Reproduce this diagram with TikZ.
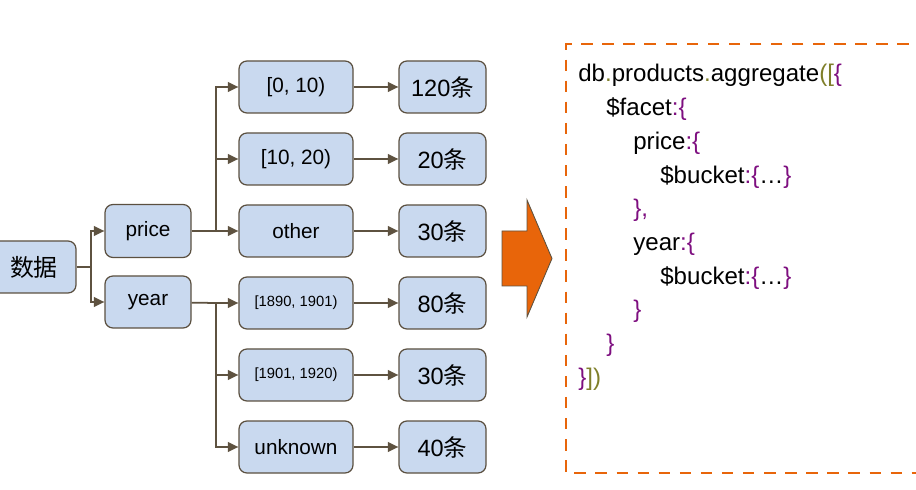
\documentclass[tikz,border=0pt]{standalone}
\usepackage{fontspec}
\setmainfont{Liberation Sans}
\newfontfamily\cjk{Noto Sans CJK SC}
\usetikzlibrary{arrows.meta}

\definecolor{boxfill}{HTML}{C9D9EF}
\definecolor{boxline}{HTML}{5B5040}
\definecolor{linkcol}{HTML}{5E5240}
\definecolor{orangeline}{HTML}{E8650A}
\definecolor{bracecol}{HTML}{7E0F80}
\definecolor{olivecol}{HTML}{7F7F2A}

\newcommand{\codepu}[1]{\textcolor{bracecol}{#1}}
\newcommand{\codeol}[1]{\textcolor{olivecol}{#1}}

\begin{document}
\begin{tikzpicture}[
        bucketbox/.style={rectangle, rounded corners=4.5pt, draw=boxline, line width=0.7pt, fill=boxfill,
            minimum height=1.04cm, inner sep=0pt, font=\fontsize{11.8}{14}\selectfont},
        countbox/.style={bucketbox, minimum width=1.74cm, font=\fontsize{13.4}{16}\selectfont},
        link/.style={draw=linkcol, line width=1pt},
        arr/.style={link, -{Triangle[length=6pt, width=5.5pt]}},
        codeline/.style={anchor=base west, inner sep=0pt, font=\fontsize{13.7}{16}\selectfont}
    ]
        \useasboundingbox (0,0) rectangle (18.32,9.78);

        \node[bucketbox, minimum width=1.68cm, font=\fontsize{13.6}{16}\selectfont] (data) at (0.68, 4.44) {\cjk 数据};
        \node[bucketbox, minimum width=1.72cm, minimum height=1.06cm] (price) at (2.96, 5.16) {price};
        \node[bucketbox, minimum width=1.72cm] (year) at (2.96, 3.74) {year};

        \coordinate (j0) at (1.82, 4.44);
        \draw[link] (data) -- (j0);
        \draw[arr] (j0) |- (price);
        \draw[arr] (j0) |- (year);

        % price buckets
        \node[bucketbox, minimum width=2.28cm] (p1) at (5.92, 8.04) {[0, 10)};
        \node[bucketbox, minimum width=2.28cm] (p2) at (5.92, 6.60) {[10, 20)};
        \node[bucketbox, minimum width=2.28cm] (p3) at (5.92, 5.16) {other};
        \node[countbox] (c1) at (8.85, 8.04) {120{\cjk 条}};
        \node[countbox] (c2) at (8.85, 6.60) {20{\cjk 条}};
        \node[countbox] (c3) at (8.85, 5.16) {30{\cjk 条}};

        \coordinate (j1) at (4.32, 5.16);
        \draw[link] (price) -- (j1);
        \draw[arr] (j1) |- (p1);
        \draw[arr] (j1) |- (p2);
        \draw[arr] (j1) -- (p3);
        \draw[arr] (p1) -- (c1);
        \draw[arr] (p2) -- (c2);
        \draw[arr] (p3) -- (c3);

        % year buckets
        \node[bucketbox, minimum width=2.28cm, font=\fontsize{8.4}{10}\selectfont] (y1) at (5.92, 3.72) {[1890, 1901)};
        \node[bucketbox, minimum width=2.28cm, font=\fontsize{8.4}{10}\selectfont] (y2) at (5.92, 2.28) {[1901, 1920)};
        \node[bucketbox, minimum width=2.28cm] (y3) at (5.92, 0.84) {unknown};
        \node[countbox] (c4) at (8.85, 3.72) {80{\cjk 条}};
        \node[countbox] (c5) at (8.85, 2.28) {30{\cjk 条}};
        \node[countbox] (c6) at (8.85, 0.84) {40{\cjk 条}};

        \coordinate (j2) at (4.32, 3.72);
        \draw[link] (year) -- (j2);
        \draw[arr] (j2) -- (y1);
        \draw[arr] (j2) |- (y2);
        \draw[arr] (j2) |- (y3);
        \draw[arr] (y1) -- (c4);
        \draw[arr] (y2) -- (c5);
        \draw[arr] (y3) -- (c6);

        % big arrow
        \filldraw[fill=orangeline, draw=linkcol, line width=0.5pt]
            (10.04, 4.06) -- (10.04, 5.16) -- (10.54, 5.16) -- (10.54, 5.78)
            -- (11.04, 4.61) -- (10.54, 3.44) -- (10.54, 4.06) -- cycle;

        % code panel
        \draw[orangeline, line width=1.6pt, dash pattern=on 6.5pt off 5.5pt]
            (18.6, 8.90) -- (11.32, 8.90) -- (11.32, 0.32) -- (18.6, 0.32);

        \node[codeline] (code1) at (11.56, 8.14) {db\codeol{.}products\codeol{.}aggregate\codeol{([}\codepu{\{}};
        \node[codeline] (code2) at (12.12, 7.466) {\$facet\codepu{:\{}};
        \node[codeline] (code3) at (12.66, 6.792) {price\codepu{:\{}};
        \node[codeline] (code4) at (13.20, 6.118) {\$bucket\codepu{:\{}…\codepu{\}}};
        \node[codeline] (code5) at (12.66, 5.444) {\codepu{\},}};
        \node[codeline] (code6) at (12.66, 4.770) {year\codepu{:\{}};
        \node[codeline] (code7) at (13.20, 4.096) {\$bucket\codepu{:\{}…\codepu{\}}};
        \node[codeline] (code8) at (12.66, 3.422) {\codepu{\}}};
        \node[codeline] (code9) at (12.12, 2.748) {\codepu{\}}};
        \node[codeline] (code10) at (11.56, 2.074) {\codepu{\}}\codeol{])}};
    \end{tikzpicture}
\end{document}
